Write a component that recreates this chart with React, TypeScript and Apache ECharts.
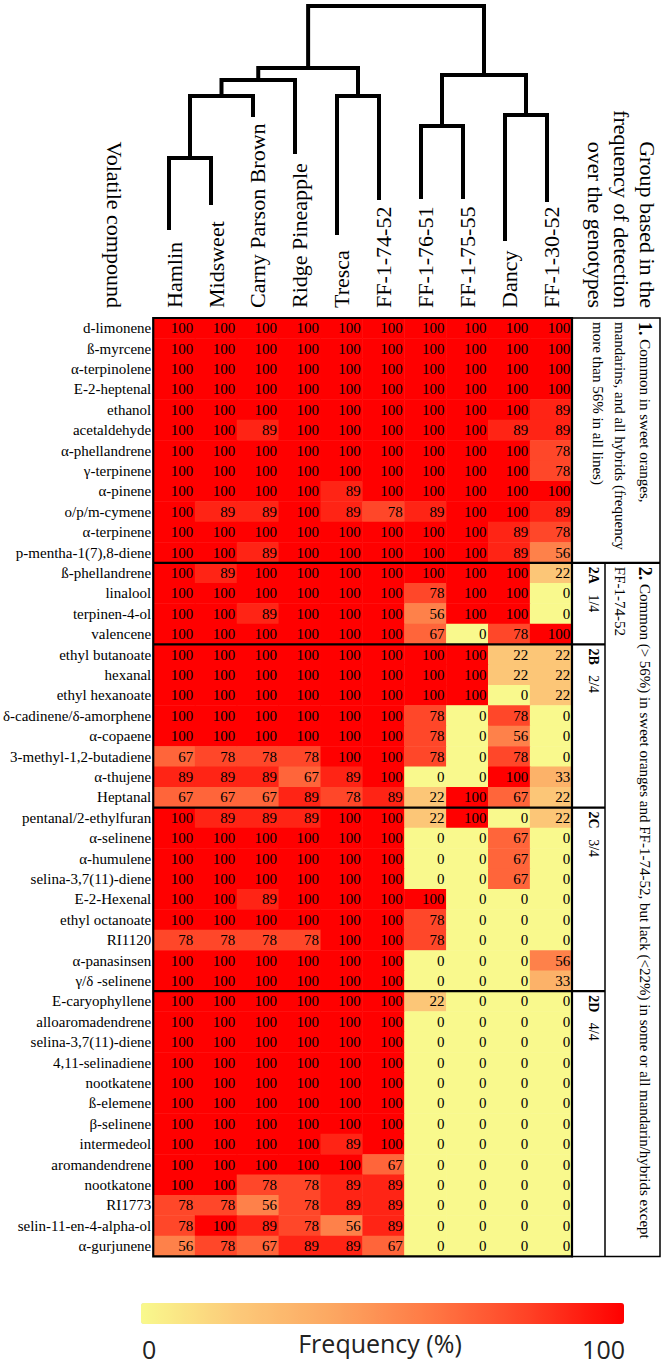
import React, { useEffect, useRef } from 'react';
import * as echarts from 'echarts';

// ---------- data ----------
const genotypes = ['Hamlin', 'Midsweet', 'Carny Parson Brown', 'Ridge Pineapple', 'Tresca', 'FF-1-74-52', 'FF-1-76-51', 'FF-1-75-55', 'Dancy', 'FF-1-30-52'];

const compounds = [
  'd-limonene', 'ß-myrcene', 'α-terpinolene', 'E-2-heptenal', 'ethanol', 'acetaldehyde', 'α-phellandrene', 'γ-terpinene', 'α-pinene', 'o/p/m-cymene', 'α-terpinene', 'p-mentha-1(7),8-diene',
  'ß-phellandrene', 'linalool', 'terpinen-4-ol', 'valencene',
  'ethyl butanoate', 'hexanal', 'ethyl hexanoate', 'δ-cadinene/δ-amorphene', 'α-copaene', '3-methyl-1,2-butadiene', 'α-thujene', 'Heptanal',
  'pentanal/2-ethylfuran', 'α-selinene', 'α-humulene', 'selina-3,7(11)-diene', 'E-2-Hexenal', 'ethyl octanoate', 'RI1120', 'α-panasinsen', 'γ/δ -selinene',
  'E-caryophyllene', 'alloaromadendrene', 'selina-3,7(11)-diene', '4,11-selinadiene', 'nootkatene', 'ß-elemene', 'β-selinene', 'intermedeol', 'aromandendrene', 'nootkatone', 'RI1773', 'selin-11-en-4-alpha-ol', 'α-gurjunene',
];

// frequency (%) per compound, columns in genotype order
const freq: number[][] = [
  [100, 100, 100, 100, 100, 100, 100, 100, 100, 100],
  [100, 100, 100, 100, 100, 100, 100, 100, 100, 100],
  [100, 100, 100, 100, 100, 100, 100, 100, 100, 100],
  [100, 100, 100, 100, 100, 100, 100, 100, 100, 100],
  [100, 100, 100, 100, 100, 100, 100, 100, 100, 89],
  [100, 100, 89, 100, 100, 100, 100, 100, 89, 89],
  [100, 100, 100, 100, 100, 100, 100, 100, 100, 78],
  [100, 100, 100, 100, 100, 100, 100, 100, 100, 78],
  [100, 100, 100, 100, 89, 100, 100, 100, 100, 100],
  [100, 89, 89, 100, 89, 78, 89, 100, 100, 89],
  [100, 100, 100, 100, 100, 100, 100, 100, 89, 78],
  [100, 100, 89, 100, 100, 100, 100, 100, 89, 56],
  [100, 89, 100, 100, 100, 100, 100, 100, 100, 22],
  [100, 100, 100, 100, 100, 100, 78, 100, 100, 0],
  [100, 100, 89, 100, 100, 100, 56, 100, 100, 0],
  [100, 100, 100, 100, 100, 100, 67, 0, 78, 100],
  [100, 100, 100, 100, 100, 100, 100, 100, 22, 22],
  [100, 100, 100, 100, 100, 100, 100, 100, 22, 22],
  [100, 100, 100, 100, 100, 100, 100, 100, 0, 22],
  [100, 100, 100, 100, 100, 100, 78, 0, 78, 0],
  [100, 100, 100, 100, 100, 100, 78, 0, 56, 0],
  [67, 78, 78, 78, 100, 100, 78, 0, 78, 0],
  [89, 89, 89, 67, 89, 100, 0, 0, 100, 33],
  [67, 67, 67, 89, 78, 89, 22, 100, 67, 22],
  [100, 89, 89, 89, 100, 100, 22, 100, 0, 22],
  [100, 100, 100, 100, 100, 100, 0, 0, 67, 0],
  [100, 100, 100, 100, 100, 100, 0, 0, 67, 0],
  [100, 100, 100, 100, 100, 100, 0, 0, 67, 0],
  [100, 100, 89, 100, 100, 100, 100, 0, 0, 0],
  [100, 100, 100, 100, 100, 100, 78, 0, 0, 0],
  [78, 78, 78, 78, 100, 100, 78, 0, 0, 0],
  [100, 100, 100, 100, 100, 100, 0, 0, 0, 56],
  [100, 100, 100, 100, 100, 100, 0, 0, 0, 33],
  [100, 100, 100, 100, 100, 100, 22, 0, 0, 0],
  [100, 100, 100, 100, 100, 100, 0, 0, 0, 0],
  [100, 100, 100, 100, 100, 100, 0, 0, 0, 0],
  [100, 100, 100, 100, 100, 100, 0, 0, 0, 0],
  [100, 100, 100, 100, 100, 100, 0, 0, 0, 0],
  [100, 100, 100, 100, 100, 100, 0, 0, 0, 0],
  [100, 100, 100, 100, 100, 100, 0, 0, 0, 0],
  [100, 100, 100, 100, 89, 100, 0, 0, 0, 0],
  [100, 100, 100, 100, 100, 67, 0, 0, 0, 0],
  [100, 100, 78, 78, 89, 89, 0, 0, 0, 0],
  [78, 78, 56, 78, 89, 89, 0, 0, 0, 0],
  [78, 100, 89, 78, 56, 89, 0, 0, 0, 0],
  [56, 78, 67, 89, 89, 67, 0, 0, 0, 0],
];

// groups of rows (in order)
const groupNames = ['1', '2A', '2B', '2C', '2D'];
const groupRowCounts = [12, 4, 8, 9, 13];
const groupShares = ['', '1/4', '2/4', '3/4', '4/4'];
const group1Lines = ['Common in sweet oranges,', 'mandarins, and all hybrids (frequency', 'more than 56% in all lines)'];
const group2Lines = ['Common (> 56%) in sweet oranges and FF-1-74-52, but lack (<22%) in some or all mandarin/hybrids except', 'FF-1-74-52'];
const headerLines = ['Group based in the', 'frequency of detection', 'over the genotypes'];
const colorbarTicks = ['0', '100'];
const colorbarTitle = 'Frequency (%)';

// dendrogram: leaf stem ends and linkage [nodeA, nodeB, height]; leaves 0..9, merges 10..
const dendroLeafStem = [80, 105, 193, 156, 75, 110, 111, 111, 69, 108];
const dendroLinkage: number[][] = [
  [0, 1, 150],
  [10, 2, 212],
  [11, 3, 228],
  [4, 5, 212],
  [12, 13, 240],
  [6, 7, 182],
  [8, 9, 193],
  [15, 16, 233],
  [14, 17, 302],
];

const colorStops = ['#f9f98d', '#fcc979', '#fca661', '#ff7844', '#ff4226', '#ff0000'];

// ---------- layout ----------
const GRID_LEFT = 152;
const GRID_TOP = 318;
const GRID_W = 420;
const ROW_H = 20.4;
const BOX_W = 88;
const SUB_W = 33;
const SERIF = 'Liberation Serif';
const BAR_LEFT = 141;
const BAR_LEN = 483;

const heatData: number[][] = [];
freq.forEach((row, r) => row.forEach((v, c) => heatData.push([c, r, v])));

const nodeX: number[] = genotypes.map((_, i) => i);
const nodeH: number[] = [...dendroLeafStem];
const dendroLines = dendroLinkage.map(([a, b, h]) => {
  const xa = nodeX[a];
  const xb = nodeX[b];
  const seg = { coords: [[xa, nodeH[a]], [xa, h], [xb, h], [xb, nodeH[b]]] };
  nodeX.push((xa + xb) / 2);
  nodeH.push(h);
  return seg;
});

function vText(x: number, y: number, text: string, align: string, size: number, rich?: any) {
  return {
    type: 'text',
    x,
    y,
    rotation: -Math.PI / 2,
    silent: true,
    style: {
      text,
      fill: '#000',
      fontFamily: SERIF,
      fontSize: size,
      align,
      verticalAlign: 'middle',
      rich,
    },
  };
}

const boldRich = (bs: number, rs: number) => ({
  b: { fontFamily: SERIF, fontSize: bs, fontWeight: 'bold', fill: '#000' },
  r: { fontFamily: SERIF, fontSize: rs, fill: '#000' },
});

function renderFrame(params: any, api: any) {
  const c00 = api.coord([0, 0]);
  const c01 = api.coord([0, 1]);
  const c10 = api.coord([1, 0]);
  const cw = Math.abs(c10[0] - c00[0]);
  const ch = Math.abs(c01[1] - c00[1]);
  const left = c00[0] - cw / 2;
  const top = c00[1] - ch / 2;
  const right = api.coord([genotypes.length - 1, 0])[0] + cw / 2;
  const bottom = api.coord([0, compounds.length - 1])[1] + ch / 2;
  const children: any[] = [];
  const line = (x1: number, y1: number, x2: number, y2: number, w: number) =>
    children.push({ type: 'line', shape: { x1, y1, x2, y2 }, style: { stroke: '#000', lineWidth: w } });

  // annotation box
  children.push({ type: 'rect', shape: { x: right, y: top, width: BOX_W, height: bottom - top }, style: { fill: 'none', stroke: '#000', lineWidth: 1.5 } });

  let cum = 0;
  const starts: number[] = [];
  groupRowCounts.forEach((n) => {
    starts.push(top + cum * ch);
    cum += n;
  });
  // group 1 | group 2 separation across heatmap and box
  line(left, starts[1], right + BOX_W, starts[1], 2.2);
  // inner vertical line of group 2
  line(right + SUB_W, starts[1], right + SUB_W, bottom, 1.5);
  for (let g = 2; g < groupRowCounts.length; g++) {
    line(left, starts[g], right + SUB_W, starts[g], 2.2);
  }
  // heatmap outer border
  children.push({ type: 'rect', shape: { x: left, y: top, width: right - left, height: bottom - top }, style: { fill: 'none', stroke: '#000', lineWidth: 2.2 } });

  // group 1 text
  children.push(vText(right + 73, starts[0] + 4, `{b|${groupNames[0]}.} {r|${group1Lines[0]}}`, 'left', 15, boldRich(18, 15)));
  children.push(vText(right + 48, starts[0] + 4, group1Lines[1], 'left', 15));
  children.push(vText(right + 26, starts[0] + 4, group1Lines[2], 'left', 15));
  // group 2 text
  children.push(vText(right + 73, starts[1] + 4, `{b|2.} {r|${group2Lines[0]}}`, 'left', 15, boldRich(18, 15)));
  children.push(vText(right + 48, starts[1] + 4, group2Lines[1], 'left', 15));
  for (let g = 1; g < groupNames.length; g++) {
    children.push(vText(right + 21, starts[g] + 4, `{b|${groupNames[g]}}{r|   ${groupShares[g]}}`, 'left', 14, boldRich(14, 14)));
  }
  return { type: 'group', children };
}

const sansLabel = { fontFamily: 'Open Sans', fontSize: 25, fill: '#222' };

const option: any = {
  animation: false,
  backgroundColor: '#ffffff',
  textStyle: { fontFamily: SERIF },
  grid: [
    { left: GRID_LEFT, top: GRID_TOP, width: GRID_W, height: ROW_H * compounds.length },
    { left: GRID_LEFT - 4, top: 6, width: GRID_W, height: 302 },
  ],
  xAxis: [
    {
      type: 'category',
      gridIndex: 0,
      position: 'top',
      data: genotypes,
      axisLine: { show: false },
      axisTick: { show: false },
      splitLine: { show: false },
      axisLabel: { rotate: -90, margin: 10, interval: 0, fontSize: 22, fontFamily: SERIF, color: '#000' },
    },
    { type: 'value', gridIndex: 1, min: -0.5, max: 9.5, show: false },
  ],
  yAxis: [
    {
      type: 'category',
      gridIndex: 0,
      inverse: true,
      data: compounds,
      axisLine: { show: false },
      axisTick: { show: false },
      splitLine: { show: false },
      axisLabel: { margin: 2, interval: 0, fontSize: 15, fontFamily: SERIF, color: '#000' },
    },
    { type: 'value', gridIndex: 1, min: 0, max: 302, show: false },
  ],
  visualMap: {
    type: 'continuous',
    min: 0,
    max: 100,
    seriesIndex: 0,
    orient: 'horizontal',
    left: BAR_LEFT,
    top: 1303,
    itemWidth: 21,
    itemHeight: BAR_LEN,
    padding: 0,
    calculable: false,
    showLabel: false,
    text: null,
    inRange: { color: colorStops },
  },
  graphic: [
    vText(114, 308, 'Volatile compound', 'right', 22),
    ...headerLines.map((t, i) => vText(GRID_LEFT + GRID_W + 75 - i * 26, 308, t, 'right', 22)),
    { type: 'text', x: BAR_LEFT + 1, y: 1349, silent: true, style: { ...sansLabel, text: colorbarTicks[0], align: 'left', verticalAlign: 'middle' } },
    { type: 'text', x: BAR_LEFT + BAR_LEN + 1, y: 1349, silent: true, style: { ...sansLabel, text: colorbarTicks[1], align: 'right', verticalAlign: 'middle' } },
    { type: 'text', x: 380, y: 1343, silent: true, style: { ...sansLabel, text: colorbarTitle, align: 'center', verticalAlign: 'middle' } },
  ],
  series: [
    {
      type: 'heatmap',
      xAxisIndex: 0,
      yAxisIndex: 0,
      data: heatData,
      itemStyle: { borderWidth: 0 },
      emphasis: { disabled: true },
      label: {
        show: true,
        position: 'insideRight',
        distance: 2,
        fontSize: 15,
        fontFamily: SERIF,
        color: '#000',
        formatter: (p: any) => String(p.value[2]),
      },
    },
    {
      type: 'lines',
      coordinateSystem: 'cartesian2d',
      xAxisIndex: 1,
      yAxisIndex: 1,
      polyline: true,
      silent: true,
      data: dendroLines,
      lineStyle: { color: '#000', width: 4, opacity: 1, cap: 'square', join: 'miter' },
    },
    {
      type: 'custom',
      xAxisIndex: 0,
      yAxisIndex: 0,
      clip: false,
      silent: true,
      z: 10,
      data: [[0, 0]],
      encode: { x: 0, y: 1 },
      renderItem: renderFrame,
    },
  ],
};

export default function App() {
  const ref = useRef<HTMLDivElement>(null);
  useEffect(() => {
    const chart = echarts.init(ref.current!, null, { renderer: 'svg' });
    chart.setOption(option);
    return () => chart.dispose();
  }, []);
  return (
    <div
      ref={ref}
      style={{ position: 'absolute', left: 0, top: 0, width: 661, height: 1366, background: '#fff' }}
    />
  );
}
